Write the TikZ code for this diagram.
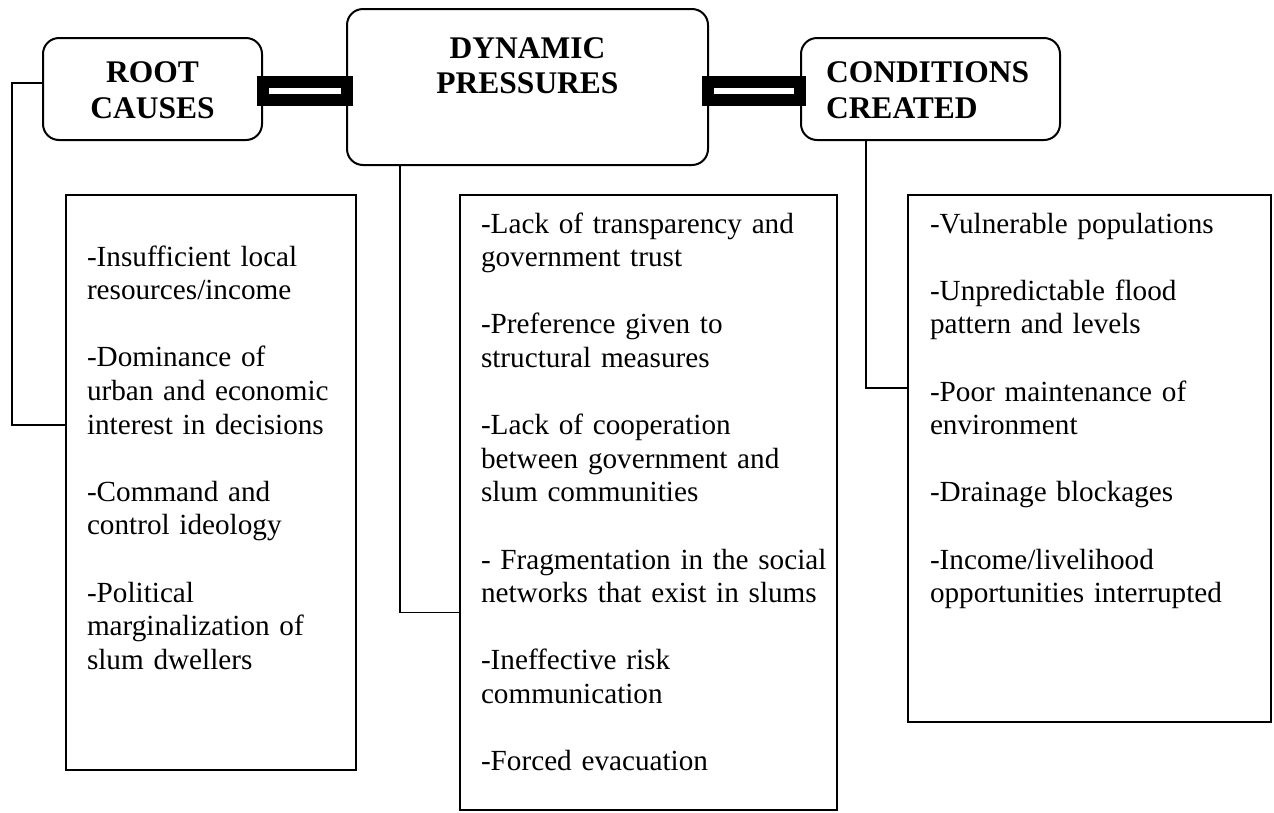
\documentclass[tikz,border=0pt]{standalone}
\usepackage{fontspec}
\setmainfont[WordSpace=0.85]{Liberation Serif}
\usetikzlibrary{calc}

\newcommand\hdfont{\fontsize{31.5}{36}\selectfont\bfseries}
\newcommand\bdfont{\fontsize{29.2}{33.6}\selectfont}
\newcommand\gap{\\[33.6pt]}

\tikzset{
  head/.style={draw, line width=2pt, rounded corners=16pt, fill=white,
    inner sep=0pt, outer sep=0pt},
  panel/.style={draw, line width=1.7pt, fill=white, inner sep=0pt, outer sep=0pt},
  headtext/.style={inner sep=0pt, outer sep=0pt, font=\hdfont, text width=#1},
  bodytext/.style={inner sep=0pt, outer sep=0pt, anchor=base west, align=left,
    text width=380pt, font=\bdfont},
  link/.style={line width=1.5pt},
  bar/.style={draw=black, fill=white, line width=12pt, line join=miter}
}

\begin{document}
\begin{tikzpicture}[x=1pt, y=-1pt]
\useasboundingbox (0,0) rectangle (1274,812);
\fill[white] (0,0) rectangle (1274,812);

% header boxes
\node[head, minimum width=219pt, minimum height=102pt] (root) at (152.5,89) {};
\node[head, minimum width=361pt, minimum height=156pt] (dp) at (527.5,87) {};
\node[head, minimum width=259pt, minimum height=102pt] (cc) at (930.5,89) {};

% header titles
\node[headtext=210pt, align=center, anchor=base] (roottitle) at (152.5,82) {ROOT\\CAUSES};
\node[headtext=340pt, align=center, anchor=base,
      font=\fontsize{31.5}{35}\selectfont\bfseries] (dptitle) at (527.5,58) {DYNAMIC\\PRESSURES};
\node[headtext=230pt, align=left, anchor=base west] (cctitle) at (826,82) {CONDITIONS\\CREATED};

% double bars linking the headers
\draw[bar] ($(root.east)+(0.5,-7)$) rectangle ($(dp.west |- root.east)+(-0.5,11)$);
\draw[bar] ($(dp.east |- cc.west)+(0,-7)$) rectangle ($(cc.west)+(-1,11)$);

% content panels
\node[panel, minimum width=290pt, minimum height=575pt] (rc) at (211,482.5) {};
\node[panel, minimum width=377pt, minimum height=615pt] (dc) at (648.5,502.5) {};
\node[panel, minimum width=363pt, minimum height=527pt] (ccl) at (1089.5,458.5) {};

% panel texts
\node[bodytext] (rctext) at (87,266) {%
-Insufficient local\\resources/income\gap
-Dominance of\\urban and economic\\interest in decisions\gap
-Command and\\control ideology\gap
-Political\\marginalization of\\slum dwellers};

\node[bodytext] (dctext) at (481,233) {%
-Lack of transparency and\\government trust\gap
-Preference given to\\structural measures\gap
-Lack of cooperation\\between government and\\slum communities\gap
- Fragmentation in the social\\networks that exist in slums\gap
-Ineffective risk\\communication\gap
-Forced evacuation};

\node[bodytext] (cctext) at (930,233) {%
-Vulnerable populations\gap
-Unpredictable flood\\pattern and levels\gap
-Poor maintenance of\\environment\gap
-Drainage blockages\gap
-Income/livelihood\\opportunities interrupted};

% elbow connectors from headers to panels
\draw[link] ([yshift=6pt]root.west) -- ++(-31,0) |- ([yshift=57.5pt]rc.west);
\draw[link] ([xshift=-127.5pt]dp.south) |- ([yshift=-110pt]dc.west);
\draw[link] ([xshift=-64.5pt]cc.south) |- ([yshift=70.5pt]ccl.west);
\end{tikzpicture}
\end{document}
